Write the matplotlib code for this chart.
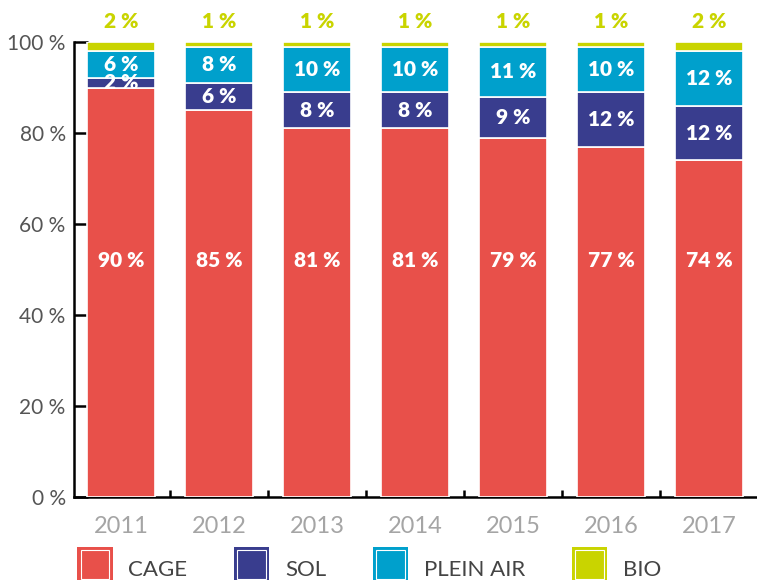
import matplotlib
matplotlib.use("Agg")
import matplotlib.pyplot as plt
import numpy as np
from matplotlib.patches import Rectangle, Patch
from matplotlib.legend_handler import HandlerBase

years = ["2011", "2012", "2013", "2014", "2015", "2016", "2017"]
cage = [90, 85, 81, 81, 79, 77, 74]
sol = [2, 6, 8, 8, 9, 12, 12]
plein_air = [6, 8, 10, 10, 11, 10, 12]
bio = [2, 1, 1, 1, 1, 1, 2]

series = [("CAGE", cage, "#e8504a"),
          ("SOL", sol, "#393d8e"),
          ("PLEIN AIR", plein_air, "#00a0cc"),
          ("BIO", bio, "#c9d400")]

plt.rcParams['font.family'] = ['Lato', 'DejaVu Sans']


class SquareHandler(HandlerBase):
    # coloured square with a thin white inner border
    def create_artists(self, legend, orig_handle, xdescent, ydescent,
                       width, height, fontsize, trans):
        c = orig_handle.get_facecolor()
        y0 = -ydescent - height * 0.2
        outer = Rectangle((-xdescent, y0), width, width,
                          facecolor=c, edgecolor="none", transform=trans)
        inset = width * 0.1
        inner = Rectangle((-xdescent + inset, y0 + inset),
                          width - 2 * inset, width - 2 * inset,
                          facecolor="none", edgecolor="white", lw=0.8, transform=trans)
        return [outer, inner]


fig = plt.figure(figsize=(7.57, 5.80), dpi=100)
ax = fig.add_axes([74 / 757, 83 / 580, 684 / 757, 455 / 580])

x = np.arange(len(years))
bottom = np.zeros(len(years))
handles = []
for name, vals, color in series:
    vals = np.array(vals, dtype=float)
    ax.bar(x, vals, width=0.69, bottom=bottom, color=color,
           edgecolor="white", linewidth=1.2, zorder=3)
    if name == "CAGE":
        # cage labels sit at the same height on every bar
        for xi, v in zip(x, vals):
            ax.text(xi, 52, f"{int(v)} %", ha="center", va="center",
                    color="white", fontsize=15, fontweight="heavy", zorder=4)
    elif name != "BIO":
        for xi, b, v in zip(x, bottom, vals):
            ax.text(xi, b + v / 2, f"{int(v)} %", ha="center", va="center",
                    color="white", fontsize=15, fontweight="heavy", zorder=4)
    else:
        for xi, v in zip(x, vals):
            ax.text(xi, 104.6, f"{int(v)} %", ha="center", va="center",
                    color=color, fontsize=15, fontweight="heavy", clip_on=False)
    bottom += vals
    handles.append(Patch(facecolor=color, label=name))

ax.set_xlim(-0.48, 6.5)
ax.set_ylim(0, 100)

for s in ["top", "right"]:
    ax.spines[s].set_visible(False)
for s in ["left", "bottom"]:
    ax.spines[s].set_linewidth(1.8)
    ax.spines[s].set_color("black")
    ax.spines[s].set_zorder(2)

ax.set_yticks(np.arange(0, 101, 20))
ax.set_yticklabels([f"{v} %" for v in range(0, 101, 20)])
ax.tick_params(axis="y", direction="in", length=10, width=1.8,
               labelsize=15, labelcolor="#555555", pad=6)

ax.set_xticks(x)
ax.set_xticklabels(years)
ax.tick_params(axis="x", which="major", length=0, labelsize=17,
               labelcolor="#a5a5a5", pad=14)
ax.set_xticks(np.arange(0.5, 7, 1), minor=True)
ax.tick_params(axis="x", which="minor", direction="in", length=5, width=1.8)

fig.legend(handles=handles, loc="center left", bbox_to_anchor=(77 / 757, 11 / 580),
           ncol=4, frameon=False, fontsize=16, handler_map={Patch: SquareHandler()},
           handlelength=1.6, handleheight=1.0, handletextpad=0.7,
           columnspacing=2.1, borderpad=0, borderaxespad=0, labelcolor="#444444")

fig.savefig("out.png", dpi=100)
